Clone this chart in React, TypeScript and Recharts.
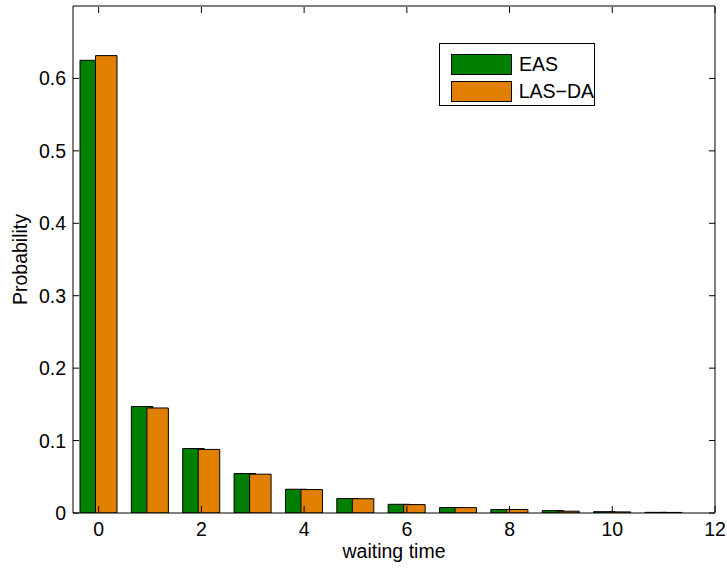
import { Bar, BarChart, Label, Legend, XAxis, YAxis } from "recharts";

const waitingTime = [0, 1, 2, 3, 4, 5, 6, 7, 8, 9, 10, 11];
const easProb = [0.625, 0.147, 0.089, 0.0545, 0.0328, 0.02, 0.012, 0.0075, 0.0048, 0.0033, 0.0018, 0.0009];
const lasDaProb = [0.6315, 0.145, 0.0878, 0.0536, 0.0324, 0.0197, 0.0116, 0.0074, 0.0049, 0.0025, 0.0015, 0.0008];
const xTicks = [0, 2, 4, 6, 8, 10, 12];
const yTicks = [0, 0.1, 0.2, 0.3, 0.4, 0.5, 0.6];

const data = waitingTime.map((t, i) => ({ t, eas: easProb[i], lasda: lasDaProb[i] }));

const FONT = "'Liberation Sans', Arial, Helvetica, sans-serif";
const FS = 19.5;
const TICK = 6;

// axes are 1px thick so they still render; ticks point inward like MATLAB
function BottomTick({ x, y, payload }: any) {
  return (
    <g>
      <line x1={x} y1={y - 1} x2={x} y2={y - 1 - TICK} stroke="#000" />
      <text x={x} y={y + 23} textAnchor="middle" fontFamily={FONT} fontSize={FS} fill="#000">
        {payload.value}
      </text>
    </g>
  );
}

function TopTick({ x, y }: any) {
  return <line x1={x} y1={y + 1} x2={x} y2={y + 1 + TICK} stroke="#000" />;
}

function LeftTick({ x, y, payload }: any) {
  return (
    <g>
      <line x1={x} y1={y} x2={x + TICK} y2={y} stroke="#000" />
      <text x={x - 7} y={y + 7} textAnchor="end" fontFamily={FONT} fontSize={FS} fill="#000">
        {payload.value}
      </text>
    </g>
  );
}

function RightTick({ x, y }: any) {
  return <line x1={x} y1={y} x2={x - TICK} y2={y} stroke="#000" />;
}

function LegendBox({ payload }: any) {
  return (
    <div
      style={{
        border: "1px solid #000",
        background: "#fff",
        width: 154,
        height: 54,
        boxSizing: "content-box",
        paddingTop: 7,
      }}
    >
      {(payload || []).map((p: any) => (
        <div key={p.value} style={{ display: "flex", alignItems: "center", height: 27, marginLeft: 11 }}>
          <span
            style={{
              display: "inline-block",
              width: 59,
              height: 19,
              background: p.color,
              border: "1px solid #000",
            }}
          />
          <span style={{ marginLeft: 7, fontFamily: FONT, fontSize: FS, color: "#000" }}>{p.value}</span>
        </div>
      ))}
    </div>
  );
}

export default function App() {
  return (
    <div style={{ position: "absolute", left: 0, top: 0, width: 727, height: 568, background: "#fff" }}>
      <BarChart
        width={727}
        height={568}
        data={data}
        margin={{ top: 5, right: 11, bottom: 54, left: 72 }}
        barSize={21.5}
        barGap={-6}
      >
        <XAxis
          dataKey="t"
          type="number"
          domain={[-0.5, 12]}
          ticks={xTicks}
          allowDataOverflow
          height={1}
          tickSize={0}
          tickMargin={0}
          tickLine={false}
          axisLine={{ stroke: "#000" }}
          tick={<BottomTick />}
          interval={0}
        >
          <Label
            value="waiting time"
            position="bottom"
            offset={30}
            style={{ fontFamily: FONT, fontSize: FS, fill: "#000" }}
          />
        </XAxis>
        <XAxis
          xAxisId="top"
          dataKey="t"
          type="number"
          orientation="top"
          domain={[-0.5, 12]}
          ticks={xTicks}
          allowDataOverflow
          height={1}
          tickSize={0}
          tickMargin={0}
          tickLine={false}
          axisLine={{ stroke: "#000" }}
          tick={<TopTick />}
          interval={0}
        />
        <YAxis
          type="number"
          domain={[0, 0.7]}
          ticks={yTicks}
          allowDataOverflow
          width={1}
          tickSize={0}
          tickMargin={0}
          tickLine={false}
          axisLine={{ stroke: "#000" }}
          tick={<LeftTick />}
          interval={0}
        >
          <Label
            value="Probability"
            angle={-90}
            position="left"
            offset={52}
            style={{ fontFamily: FONT, fontSize: FS, fill: "#000", textAnchor: "middle" }}
          />
        </YAxis>
        <YAxis
          yAxisId="right"
          orientation="right"
          type="number"
          domain={[0, 0.7]}
          ticks={yTicks}
          allowDataOverflow
          width={1}
          tickSize={0}
          tickMargin={0}
          tickLine={false}
          axisLine={{ stroke: "#000" }}
          tick={<RightTick />}
          interval={0}
        />
        <Legend
          layout="vertical"
          verticalAlign="middle"
          align="center"
          content={<LegendBox />}
          wrapperStyle={{ position: "absolute", left: 439, top: 43, width: "auto", height: "auto" }}
        />
        <Bar dataKey="eas" name="EAS" fill="#007f00" stroke="#000" strokeWidth={1} isAnimationActive={false} />
        <Bar dataKey="lasda" name={"LAS\u2212DA"} fill="#e07f00" stroke="#000" strokeWidth={1} isAnimationActive={false} />
      </BarChart>
    </div>
  );
}
